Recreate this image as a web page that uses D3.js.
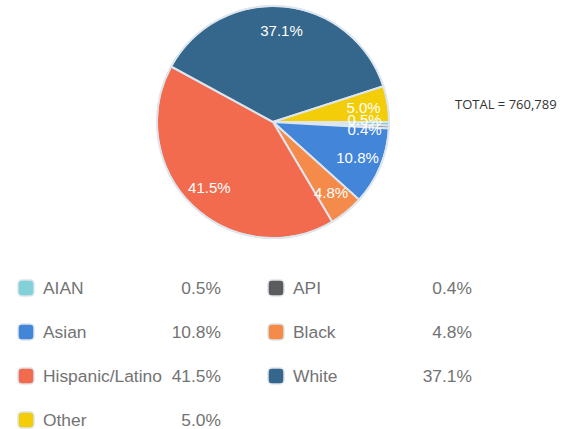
<!DOCTYPE html>
<html>
<head>
<meta charset="utf-8">
<script src="https://cdn.jsdelivr.net/npm/d3@7"></script>
<style>
  body { margin: 0; background: #fff; }
  svg { display: block; }
</style>
</head>
<body>
<svg id="chart" width="574" height="429"></svg>
<script>
// data
var groups = ["AIAN", "API", "Asian", "Black", "Hispanic/Latino", "White", "Other"];
var shares = [0.5, 0.4, 10.8, 4.8, 41.5, 37.1, 5.0];
var colors = ["#82d1d8", "#5b5b5b", "#4285d9", "#f48b4b", "#f36b4e", "#35668b", "#f3cd07"];
var totalCount = 760789;

var width = 574, height = 429;
var cx = 273, cy = 122, radius = 116;

var svg = d3.select("#chart");

var data = groups.map(function(g, i) {
	return { label: g, value: shares[i], color: colors[i] };
});

// pie starts at 3 o'clock and runs clockwise
var pie = d3.pie()
	.value(function(d) { return d.value; })
	.sort(null)
	.startAngle(Math.PI / 2)
	.endAngle(Math.PI / 2 + 2 * Math.PI);

var arc = d3.arc()
	.innerRadius(0)
	.outerRadius(radius);

var labelArc = d3.arc()
	.innerRadius(radius * 0.79)
	.outerRadius(radius * 0.79);

var chart = svg.append("g")
	.attr("transform", "translate(" + cx + "," + cy + ")");

var arcs = pie(data);

chart.selectAll("path")
	.data(arcs)
  .enter()
	.append("path")
	.attr("d", arc)
	.attr("fill", function(d) { return d.data.color; })
	.attr("stroke", "#dde6ee")
	.attr("stroke-width", 2);

chart.append("circle")
	.attr("r", radius)
	.attr("fill", "none")
	.attr("stroke", "#dde6ee")
	.attr("stroke-width", 1.5);

// label positions, pushing apart the ones that collide
var labelPos = arcs.map(function(d) { return labelArc.centroid(d); });
for (var i = 1; i < labelPos.length; i++) {
	var a = labelPos[i - 1], b = labelPos[i];
	if (Math.abs(a[0] - b[0]) < 30 && Math.abs(a[1] - b[1]) < 10) {
		var mid = (a[1] + b[1]) / 2;
		var dir = a[1] <= b[1] ? 1 : -1;
		a[1] = mid - dir * 5;
		b[1] = mid + dir * 5;
	}
}

chart.selectAll(".slice-label")
	.data(arcs)
  .enter()
	.append("text")
	.attr("class", "slice-label")
	.attr("x", function(d, i) { return labelPos[i][0]; })
	.attr("y", function(d, i) { return labelPos[i][1]; })
	.attr("dy", "0.35em")
	.attr("text-anchor", "middle")
	.style("font-family", "Liberation Sans, Arial, sans-serif")
	.style("font-size", "15px")
	.style("fill", "#fff")
	.text(function(d) { return d3.format(".1f")(d.data.value) + "%"; });

// total
svg.append("text")
	.attr("x", 455)
	.attr("y", 104)
	.attr("dy", "0.35em")
	.style("font-family", "Open Sans, sans-serif")
	.style("font-size", "13px")
	.style("fill", "#333")
	.text("TOTAL = " + d3.format(",")(totalCount));

// legend, two columns
var legendTop = 288, rowStep = 44;
var colX = [17, 267], valRight = [221, 472];

var legend = svg.selectAll(".legend")
	.data(data)
  .enter()
	.append("g")
	.attr("class", "legend")
	.attr("transform", function(d, i) {
		return "translate(" + colX[i % 2] + "," + (legendTop + Math.floor(i / 2) * rowStep) + ")";
	});

legend.append("rect")
	.attr("x", 1)
	.attr("y", -8)
	.attr("width", 16)
	.attr("height", 16)
	.attr("rx", 4)
	.attr("fill", function(d) { return d.color; })
	.attr("stroke", "#dbe4ec")
	.attr("stroke-width", 1.5);

legend.append("text")
	.attr("x", 26)
	.attr("dy", "0.35em")
	.style("font-family", "Liberation Sans, Arial, sans-serif")
	.style("font-size", "17.4px")
	.style("fill", "#737373")
	.text(function(d) { return d.label; });

legend.append("text")
	.attr("x", function(d, i) { return valRight[i % 2] - colX[i % 2]; })
	.attr("dy", "0.35em")
	.attr("text-anchor", "end")
	.style("font-family", "Liberation Sans, Arial, sans-serif")
	.style("font-size", "17.4px")
	.style("fill", "#737373")
	.text(function(d) { return d3.format(".1f")(d.value) + "%"; });
</script>
</body>
</html>
